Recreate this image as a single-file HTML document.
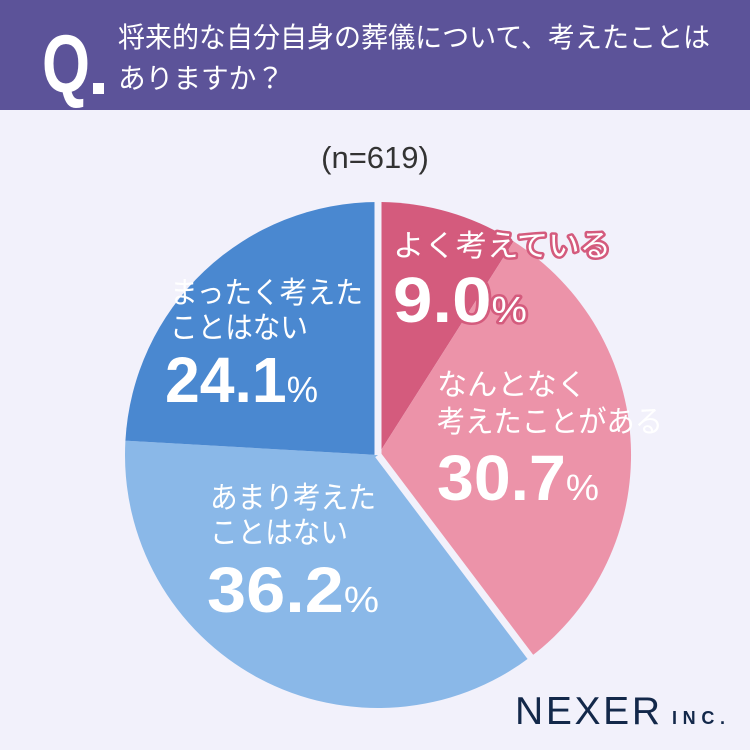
<!DOCTYPE html><html><head><meta charset="utf-8"><style>
body{margin:0;width:750px;height:750px;overflow:hidden;background:#f2f1fb;font-family:"Liberation Sans","Noto Sans CJK JP",sans-serif}
</style></head><body>
<svg width="750" height="750" viewBox="0 0 750 750" xmlns="http://www.w3.org/2000/svg" style="display:block">
<rect width="750" height="750" fill="#f2f1fb"/>
<rect width="750" height="110" fill="#5c5399"/>
<text x="42" y="92" font-size="82" font-weight="bold" fill="#fff" textLength="48" lengthAdjust="spacingAndGlyphs" font-family="Liberation Sans,sans-serif">Q</text>
<rect x="93" y="83" width="11" height="11" fill="#fff"/>
<g fill="#fff" font-size="28" font-family="Liberation Sans,Noto Sans CJK JP,sans-serif">
<text x="118" y="47" textLength="592" lengthAdjust="spacingAndGlyphs">将来的な自分自身の葬儀について、考えたことは</text>
<text x="118" y="88" textLength="166" lengthAdjust="spacingAndGlyphs">ありますか？</text>
</g>
<text x="375" y="168" text-anchor="middle" font-size="31" fill="#333">(n=619)</text>
<path d="M378,455 L378,202 A253,253 0 0 1 513.6,241.4 Z" fill="#d45b7d"/>
<path d="M378,455 L513.6,241.4 A253,253 0 0 1 530.5,656.9 Z" fill="#ec93a9"/>
<path d="M378,455 L530.5,656.9 A253,253 0 0 1 125.4,440.7 Z" fill="#8ab8e8"/>
<path d="M378,455 L125.4,440.7 A253,253 0 0 1 378,202 Z" fill="#4a88d0"/>
<line x1="378" y1="455" x2="378" y2="195" stroke="#f2f1fb" stroke-width="7"/>
<line x1="378" y1="455" x2="535" y2="663" stroke="#f2f1fb" stroke-width="7"/>
<g fill="#fff" font-family="Liberation Sans,Noto Sans CJK JP,sans-serif" stroke-linejoin="round" paint-order="stroke">
<g stroke="#d45b7d" stroke-width="5">
<text x="393" y="256" font-size="30" textLength="218" lengthAdjust="spacingAndGlyphs">よく考えている</text>
<text x="393" y="322" font-size="64" font-weight="bold" textLength="134" lengthAdjust="spacingAndGlyphs">9.0<tspan font-size="36" font-weight="normal">%</tspan></text>
</g>
<text x="437" y="395" font-size="30" textLength="150" lengthAdjust="spacingAndGlyphs">なんとなく</text>
<text x="437" y="432" font-size="30" textLength="226" lengthAdjust="spacingAndGlyphs">考えたことがある</text>
<text x="437" y="500" font-size="64" font-weight="bold" textLength="162" lengthAdjust="spacingAndGlyphs">30.7<tspan font-size="36" font-weight="normal">%</tspan></text>
<text x="170" y="303" font-size="30" textLength="193" lengthAdjust="spacingAndGlyphs">まったく考えた</text>
<text x="170" y="338" font-size="30" textLength="138" lengthAdjust="spacingAndGlyphs">ことはない</text>
<text x="165" y="402" font-size="64" font-weight="bold" textLength="153" lengthAdjust="spacingAndGlyphs">24.1<tspan font-size="36" font-weight="normal">%</tspan></text>
<text x="210" y="508" font-size="30" textLength="166" lengthAdjust="spacingAndGlyphs">あまり考えた</text>
<text x="210" y="543" font-size="30" textLength="138" lengthAdjust="spacingAndGlyphs">ことはない</text>
<text x="207" y="612" font-size="64" font-weight="bold" textLength="172" lengthAdjust="spacingAndGlyphs">36.2<tspan font-size="36" font-weight="normal">%</tspan></text>
</g>
<text x="515" y="724" font-size="39" fill="#13284a" textLength="145" lengthAdjust="spacing">NEXER</text>
<text x="672" y="724" font-size="18" font-weight="bold" fill="#13284a" textLength="53" lengthAdjust="spacing">INC.</text>
</svg>
</body></html>
